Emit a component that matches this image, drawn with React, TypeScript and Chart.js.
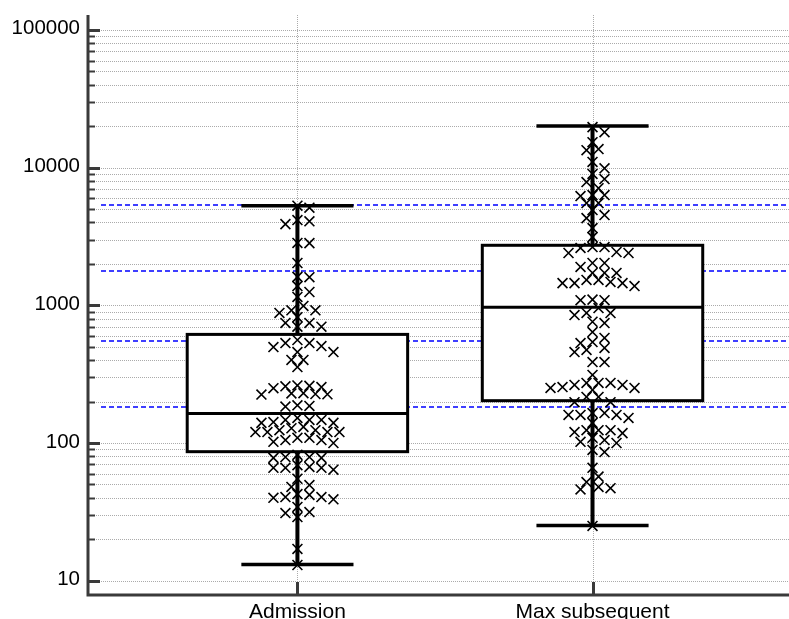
import React, { useEffect, useRef } from "react";
import { Chart, registerables } from "chart.js";

Chart.register(...registerables);

// ---------------- data ----------------
const categories = ["Admission", "Max subsequent"];

const admissionValues = [
  5290, 5120, 4160, 4080, 3890, 2830, 2840, 2030, 1600, 1610, 1380, 1250, 1150, 990, 920, 920, 880, 820, 745, 745, 700, 700,
  560, 532, 532, 506, 498, 458, 458, 401, 401, 356,
  255, 262, 260, 258, 250, 227, 225, 229, 226, 230, 186, 188, 184,
  152, 147, 142, 147, 147, 131, 140, 140, 120, 120, 120, 120, 124, 124, 128, 100, 102, 105, 105, 109, 109,
  82, 79, 78, 79, 78, 64, 66, 67, 66, 66, 69,
  55, 48, 49.5, 39, 40.5, 40, 40.5, 42, 42.6, 31.5, 34.3, 29, 31,
  17, 13,
];

const maxSubsequentValues = [
  19700, 18100, 15300, 13650, 13400, 11000, 9900, 9000, 8260, 7860, 7100, 6320, 6320, 6220, 5530, 5530, 4920, 4530, 4300, 3640, 3130,
  2650, 2610, 2650, 2400, 2440, 2400, 2030, 2030, 1900, 1720, 1720, 1720, 1380, 1450, 1450, 1450, 1480, 1530, 1530, 1090, 1090, 1100,
  956, 850, 879, 880, 743, 760, 640, 580, 532, 541, 490, 474, 458, 387, 387, 312, 255, 264, 264, 273, 273, 273, 243, 251, 251, 216, 216,
  198, 198, 160, 165, 160, 165, 140, 152, 160, 118, 124, 120, 124, 124, 100, 102, 105, 109, 86, 89, 66, 57, 52, 46, 47, 48, 25,
];

const whiskerLow = [13.1, 25.2];
const q1Values = [86.5, 203];
const medianValues = [164, 967];
const q3Values = [615, 2730];
const whiskerHigh = [5290, 20050];

const referenceLines = [5350, 1800, 545, 183];

const yTickValues = [10, 100, 1000, 10000, 100000];
const yTickLabels = ["10", "100", "1000", "10000", "100000"];
const yMin = 7.87;
const yMax = 128500;

// ---------------- styles ----------------
const FONT = '"Liberation Sans", Arial, Helvetica, sans-serif';
const AXIS_COLOR = "#3a3a3a";
const GRID_COLOR = "#ababab";
const BOX_HALF = 0.3735; // x units
const CAP_HALF = 0.19;

function swarmOffsets(yPix: number[], step: number, minDist: number): number[] {
  const order = yPix.map((_, i) => i).sort((a, b) => yPix[a] - yPix[b]);
  const placed: { x: number; y: number }[] = [];
  const offsets = new Array(yPix.length).fill(0);
  for (const i of order) {
    const y = yPix[i];
    for (let k = 0; k < 200; k++) {
      const n = Math.ceil(k / 2);
      const cand = k === 0 ? 0 : k % 2 === 1 ? n * step : -n * step;
      let ok = true;
      for (const p of placed) {
        const dx = p.x - cand;
        const dy = p.y - y;
        if (dx * dx + dy * dy < minDist * minDist) {
          ok = false;
          break;
        }
      }
      if (ok) {
        offsets[i] = cand;
        placed.push({ x: cand, y });
        break;
      }
    }
  }
  return offsets;
}

const boxPlugin = {
  id: "boxPlot",
  beforeDatasetsDraw(chart: any) {
    const { ctx, chartArea: a, scales } = chart;
    const x = scales.x;
    const y = scales.y;
    ctx.save();

    // dotted horizontal grid
    ctx.strokeStyle = GRID_COLOR;
    ctx.lineWidth = 1;
    ctx.setLineDash([1, 1]);
    for (let e = 0; e < yTickValues.length; e++) {
      for (let m = 1; m <= 9; m++) {
        const v = yTickValues[e] * m;
        if (v > yMax || v < yMin) continue;
        const py = Math.round(y.getPixelForValue(v)) + 0.5;
        ctx.beginPath();
        ctx.moveTo(a.left + (m === 1 ? 13 : 8), py);
        ctx.lineTo(a.right, py);
        ctx.stroke();
      }
    }
    // dotted vertical grid at categories
    categories.forEach((_, i) => {
      const px = Math.round(x.getPixelForValue(i + 1)) + 0.5;
      ctx.beginPath();
      ctx.moveTo(px, a.top);
      ctx.lineTo(px, a.bottom - 13);
      ctx.stroke();
    });

    // blue dashed reference lines
    ctx.strokeStyle = "#0000ff";
    ctx.lineWidth = 1.5;
    ctx.setLineDash([5, 3]);
    referenceLines.forEach((v) => {
      const p = y.getPixelForValue(v);
      const py = 2 * Math.floor(p / 2) + 1;
      ctx.beginPath();
      ctx.moveTo(a.left + 13, py);
      ctx.lineTo(a.right, py);
      ctx.stroke();
    });

    ctx.setLineDash([]);
    ctx.strokeStyle = "#000";
    categories.forEach((_, i) => {
      const cx = x.getPixelForValue(i + 1);
      const l = x.getPixelForValue(i + 1 - BOX_HALF);
      const r = x.getPixelForValue(i + 1 + BOX_HALF);
      const cl = x.getPixelForValue(i + 1 - CAP_HALF);
      const cr = x.getPixelForValue(i + 1 + CAP_HALF);
      const yq1 = y.getPixelForValue(q1Values[i]);
      const yq3 = y.getPixelForValue(q3Values[i]);
      const ymed = y.getPixelForValue(medianValues[i]);
      const ylo = y.getPixelForValue(whiskerLow[i]);
      const yhi = y.getPixelForValue(whiskerHigh[i]);

      ctx.fillStyle = "#fff";
      ctx.fillRect(l, yq3, r - l, yq1 - yq3);
      ctx.lineWidth = 3;
      ctx.strokeRect(l, yq3, r - l, yq1 - yq3);
      ctx.beginPath();
      ctx.moveTo(l, ymed);
      ctx.lineTo(r, ymed);
      ctx.stroke();

      ctx.lineWidth = 4;
      ctx.beginPath();
      ctx.moveTo(cx, yq3);
      ctx.lineTo(cx, yhi);
      ctx.moveTo(cx, yq1);
      ctx.lineTo(cx, ylo);
      ctx.stroke();

      ctx.lineWidth = 3.5;
      ctx.beginPath();
      ctx.moveTo(cl, yhi);
      ctx.lineTo(cr, yhi);
      ctx.moveTo(cl, ylo);
      ctx.lineTo(cr, ylo);
      ctx.stroke();
    });
    ctx.restore();
  },
  afterDatasetsDraw(chart: any) {
    const { ctx, chartArea: a, scales } = chart;
    const x = scales.x;
    const y = scales.y;
    ctx.save();
    ctx.strokeStyle = AXIS_COLOR;
    ctx.lineWidth = 3;
    ctx.setLineDash([]);
    // axes
    ctx.beginPath();
    ctx.moveTo(a.left, a.top);
    ctx.lineTo(a.left, a.bottom + 1.5);
    ctx.moveTo(a.left - 1.5, a.bottom);
    ctx.lineTo(a.right, a.bottom);
    ctx.stroke();

    // y ticks
    for (let e = 0; e < yTickValues.length; e++) {
      for (let m = 1; m <= 9; m++) {
        const v = yTickValues[e] * m;
        if (v > yMax || v < yMin) continue;
        const py = Math.round(y.getPixelForValue(v)) + 0.5;
        ctx.lineWidth = m === 1 ? 3 : 2;
        ctx.beginPath();
        ctx.moveTo(a.left, py);
        ctx.lineTo(a.left + (m === 1 ? 12 : 7), py);
        ctx.stroke();
      }
    }
    // x ticks
    ctx.lineWidth = 3;
    categories.forEach((_, i) => {
      const px = Math.round(x.getPixelForValue(i + 1)) + 0.5;
      ctx.beginPath();
      ctx.moveTo(px, a.bottom);
      ctx.lineTo(px, a.bottom - 13);
      ctx.stroke();
    });

    // labels
    ctx.fillStyle = "#000";
    ctx.font = `20.5px ${FONT}`;
    ctx.textAlign = "right";
    ctx.textBaseline = "alphabetic";
    yTickValues.forEach((v, i) => {
      const py = y.getPixelForValue(v);
      ctx.fillText(yTickLabels[i], a.left - 8, py + 4.5);
    });
    ctx.font = `21px ${FONT}`;
    ctx.textAlign = "center";
    categories.forEach((c, i) => {
      ctx.fillText(c, x.getPixelForValue(i + 1), a.bottom + 23);
    });
    ctx.restore();
  },
};

export default function App() {
  const canvasRef = useRef<HTMLCanvasElement | null>(null);

  useEffect(() => {
    const canvas = canvasRef.current;
    if (!canvas) return;
    const groups = [admissionValues, maxSubsequentValues];
    const chart = new Chart(canvas, {
      type: "scatter",
      data: {
        datasets: groups.map((vals, gi) => ({
          label: categories[gi],
          data: vals.map((v) => ({ x: gi + 1, y: v })),
          pointStyle: "crossRot",
          pointRadius: 7,
          pointBorderWidth: 1.6,
          borderColor: "#000",
          backgroundColor: "rgba(0,0,0,0)",
          pointHoverRadius: 7,
        })),
      },
      options: {
        responsive: false,
        animation: false,
        events: [],
        layout: { padding: { left: 88, top: 15, right: 0, bottom: 24 } },
        plugins: { legend: { display: false }, tooltip: { enabled: false } },
        scales: {
          x: { type: "linear", min: 0.2903, max: 2.6706, bounds: "data", display: false },
          y: { type: "logarithmic", min: yMin, max: yMax, bounds: "data", display: false },
        },
      } as any,
      plugins: [boxPlugin],
    });

    // beeswarm layout computed through the chart's own scales
    const xs: any = chart.scales.x;
    const ys: any = chart.scales.y;
    const pxPerUnit = xs.getPixelForValue(2) - xs.getPixelForValue(1);
    groups.forEach((vals, gi) => {
      const offs = swarmOffsets(vals.map((v) => ys.getPixelForValue(v)), 6, 9);
      (chart.data.datasets[gi] as any).data = vals.map((v, k) => ({ x: gi + 1 + offs[k] / pxPerUnit, y: v }));
    });
    chart.update();

    return () => chart.destroy();
  }, []);

  return (
    <div style={{ position: "absolute", left: 0, top: 0, width: 789, height: 619, overflow: "hidden", background: "#fff" }}>
      <canvas ref={canvasRef} width={799} height={619} style={{ display: "block" }} />
    </div>
  );
}
